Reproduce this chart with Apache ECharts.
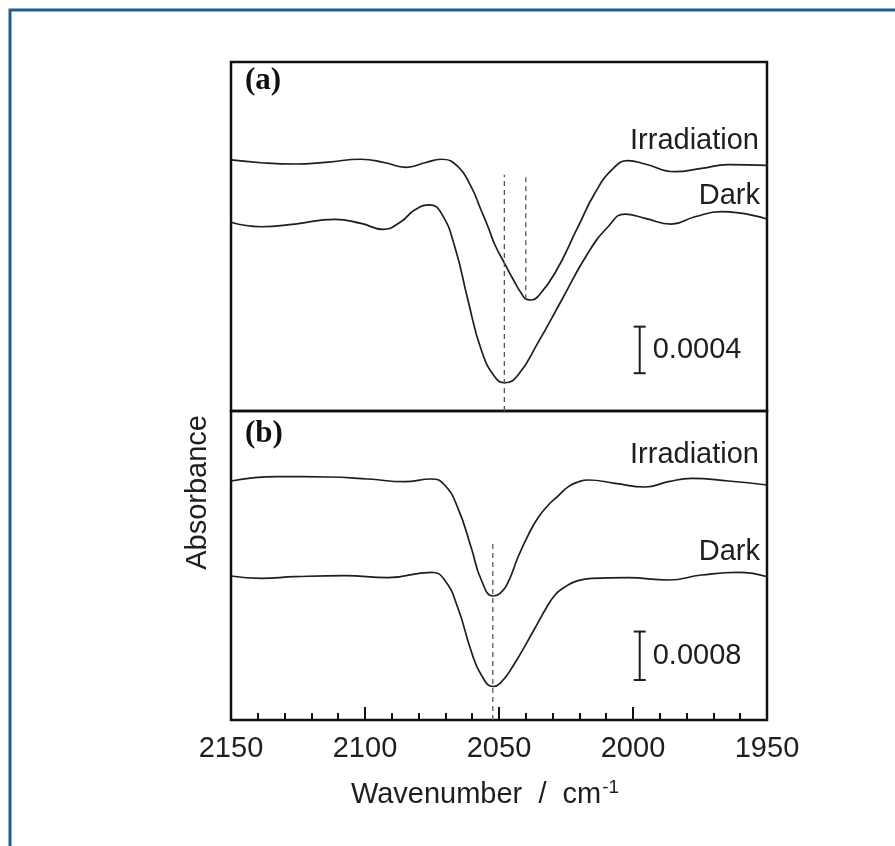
<!DOCTYPE html>
<html>
<head>
<meta charset="utf-8">
<script src="https://cdn.jsdelivr.net/npm/echarts@6/dist/echarts.min.js"></script>
<style>
  html, body { margin: 0; padding: 0; background: #fff; }
  #chart { width: 895px; height: 846px; }
</style>
</head>
<body>
<div id="chart"></div>
<script>
// wavenumber ticks (cm-1)
const xTicks = [2150, 2100, 2050, 2000, 1950]

// panel (a): [wavenumber, absorbance]
const irrA = [
  [2150, 0.002158], [2138.8, 0.002134], [2126.1, 0.002123], [2113.8, 0.002140],
  [2101.5, 0.002164], [2092.5, 0.002134], [2084.7, 0.002095], [2077.6, 0.002134],
  [2071.6, 0.002164], [2065.3, 0.002100], [2060.4, 0.001928], [2056.7, 0.001728],
  [2054.1, 0.001584], [2051.5, 0.001427], [2047.8, 0.001264], [2044.8, 0.001135],
  [2041.5, 0.001006], [2039.7, 0.000960], [2037.7, 0.000954], [2035.5, 0.000983],
  [2029.1, 0.001186], [2020.5, 0.001584], [2014.2, 0.001874], [2007.9, 0.002072],
  [2001.9, 0.002152], [1995.5, 0.002123], [1984.3, 0.002057], [1974.4, 0.002086],
  [1964.6, 0.002117], [1950, 0.002112]
]
const darkA = [
  [2150, 0.001622], [2138.8, 0.001584], [2126.1, 0.001607], [2111.3, 0.001648],
  [2101.5, 0.001613], [2093.3, 0.001562], [2086.6, 0.001627], [2081.5, 0.001728],
  [2075.9, 0.001771], [2071.5, 0.001699], [2066.5, 0.001412], [2061.6, 0.000954],
  [2056.6, 0.000524], [2051.6, 0.000295], [2047.8, 0.000243], [2042.9, 0.000309],
  [2035.5, 0.000585], [2026.6, 0.000954], [2016.8, 0.001358], [2009.3, 0.001584],
  [2003.0, 0.001693], [1995.5, 0.001656], [1985.6, 0.001607], [1976.9, 0.001670],
  [1966.9, 0.001713], [1950, 0.001650]
]

// panel (b)
const irrB = [
  [2150, 0.003945], [2132.5, 0.004016], [2113.8, 0.004011], [2098.9, 0.003978],
  [2085.2, 0.003933], [2075.3, 0.003978], [2070.3, 0.003879], [2065.3, 0.003494],
  [2060.3, 0.002834], [2056.6, 0.002311], [2052.2, 0.002047], [2049.6, 0.002091],
  [2046.5, 0.002283], [2042.9, 0.002690], [2039.1, 0.003053], [2035.5, 0.003334],
  [2031.6, 0.003549], [2028.0, 0.003697], [2024.1, 0.003851], [2020.5, 0.003928],
  [2016.7, 0.003961], [2006.7, 0.003907], [1995.5, 0.003846], [1986.8, 0.003933],
  [1978.1, 0.003989], [1964.4, 0.003945], [1950, 0.003879]
]
const darkB = [
  [2150, 0.002377], [2138.7, 0.002339], [2126.2, 0.002365], [2107.6, 0.002382],
  [2091.4, 0.002349], [2075.3, 0.002438], [2070.3, 0.002311], [2065.3, 0.001844],
  [2060.3, 0.001127], [2056.6, 0.000743], [2052.2, 0.000553], [2049.6, 0.000606],
  [2045.3, 0.000853], [2036.6, 0.001514], [2032.8, 0.001816], [2029.1, 0.002063],
  [2025.4, 0.002195], [2021.6, 0.002283],
  [2015.4, 0.002339], [2001.8, 0.002349], [1986.8, 0.002311], [1974.4, 0.002393],
  [1960.7, 0.002438], [1950, 0.002365]
]

// dashed guide lines: [wavenumber, yFrom, yTo]
const guidesA = [[2048, 0, 0.00203], [2040, 0.00096, 0.00203]]
const guidesB = [[2052.3, 0, 0.00297]]

// scale bars: [wavenumber, yBottom, length]
const barA = [1997.5, 0.000325, 0.0004]
const barB = [1997.5, 0.00066, 0.0008]
const barLabels = ['0.0004', '0.0008']

const font = 'Liberation Sans, Arial, Helvetica, sans-serif'
const ink = '#1e1e1e'

const chart = echarts.init(document.getElementById('chart'), null, { renderer: 'canvas' })

function curve(data, idx) {
  return {
    type: 'line', xAxisIndex: idx, yAxisIndex: idx, data: data,
    smooth: 0.5, showSymbol: false, silent: true,
    lineStyle: { color: ink, width: 1.7 }
  }
}

function guide(g, idx) {
  return {
    type: 'line', xAxisIndex: idx, yAxisIndex: idx,
    data: [[g[0], g[1]], [g[0], g[2]]],
    showSymbol: false, silent: true,
    lineStyle: { color: '#555', width: 1.3, type: [5, 4] }
  }
}

function scaleBar(bar, idx, label) {
  return {
    type: 'custom', xAxisIndex: idx, yAxisIndex: idx, silent: true,
    data: [[bar[0], bar[1], bar[1] + bar[2]]],
    renderItem: (params, api) => {
      const p0 = api.coord([api.value(0), api.value(1)])
      const p1 = api.coord([api.value(0), api.value(2)])
      const st = { stroke: ink, lineWidth: 2 }
      return {
        type: 'group',
        children: [
          { type: 'line', shape: { x1: p0[0], y1: p0[1], x2: p1[0], y2: p1[1] }, style: st },
          { type: 'line', shape: { x1: p0[0] - 6, y1: p0[1], x2: p0[0] + 6, y2: p0[1] }, style: st },
          { type: 'line', shape: { x1: p1[0] - 6, y1: p1[1], x2: p1[0] + 6, y2: p1[1] }, style: st },
          {
            type: 'text',
            style: {
              x: p0[0] + 13, y: (p0[1] + p1[1]) / 2, text: label,
              font: '29px ' + font, fill: ink, textVerticalAlign: 'middle'
            }
          }
        ]
      }
    }
  }
}

function textEl(x, y, str, size, opts) {
  return Object.assign({
    type: 'text', x: x, y: y, silent: true,
    style: { text: str, font: size + 'px ' + font, fill: ink, textAlign: 'right', textVerticalAlign: 'middle' }
  }, opts || {})
}

const xBase = {
  type: 'value', min: 1950, max: 2150, interval: 50, inverse: true,
  splitLine: { show: false }, axisLine: { show: false }
}

chart.setOption({
  animation: false,
  grid: [
    { left: 231, top: 62, width: 536, height: 349, show: true, borderColor: '#111', borderWidth: 2.5 },
    { left: 231, top: 411, width: 536, height: 309, show: true, borderColor: '#111', borderWidth: 2.5 }
  ],
  xAxis: [
    Object.assign({}, xBase, { gridIndex: 0, axisTick: { show: false }, axisLabel: { show: false } }),
    Object.assign({}, xBase, {
      gridIndex: 1,
      axisTick: { show: true, inside: true, length: 13, lineStyle: { color: '#111', width: 2 } },
      minorTick: { show: true, splitNumber: 5, length: 7, lineStyle: { color: '#111', width: 2 } },
      axisLabel: {
        margin: 14, fontSize: 29, fontFamily: font, color: ink,
        customValues: xTicks,
        formatter: v => String(v)
      },
      name: '{n|Wavenumber  /  cm}{s|-1}',
      nameLocation: 'middle', nameGap: 58,
      nameTextStyle: {
        padding: [0, 28, 0, 0],
        rich: {
          n: { fontSize: 29, fontFamily: font, color: ink },
          s: { fontSize: 19, fontFamily: font, color: ink, padding: [0, 0, 14, 1] }
        }
      }
    })
  ],
  yAxis: [
    { type: 'value', gridIndex: 0, min: 0, max: 0.003, show: false },
    { type: 'value', gridIndex: 1, min: 0, max: 0.0051, show: false }
  ],
  graphic: [
    { type: 'rect', silent: true, shape: { x: 10, y: 10, width: 1000, height: 1000 },
      style: { fill: 'none', stroke: '#1f5c9a', lineWidth: 3 } },
    textEl(198, 415, 'Absorbance', 29, { rotation: Math.PI / 2 }),
    { type: 'text', x: 245, y: 81, silent: true,
      style: { text: '(a)', font: 'bold 31px Liberation Serif, Times New Roman, serif', fill: '#111', textVerticalAlign: 'middle' } },
    { type: 'text', x: 245, y: 434, silent: true,
      style: { text: '(b)', font: 'bold 31px Liberation Serif, Times New Roman, serif', fill: '#111', textVerticalAlign: 'middle' } },
    textEl(759, 141, 'Irradiation', 29),
    textEl(760, 196, 'Dark', 29),
    textEl(759, 455, 'Irradiation', 29),
    textEl(760, 552, 'Dark', 29)
  ],
  series: [
    curve(irrA, 0), curve(darkA, 0),
    curve(irrB, 1), curve(darkB, 1),
    guide(guidesA[0], 0), guide(guidesA[1], 0), guide(guidesB[0], 1),
    scaleBar(barA, 0, barLabels[0]), scaleBar(barB, 1, barLabels[1])
  ]
})
</script>
</body>
</html>
